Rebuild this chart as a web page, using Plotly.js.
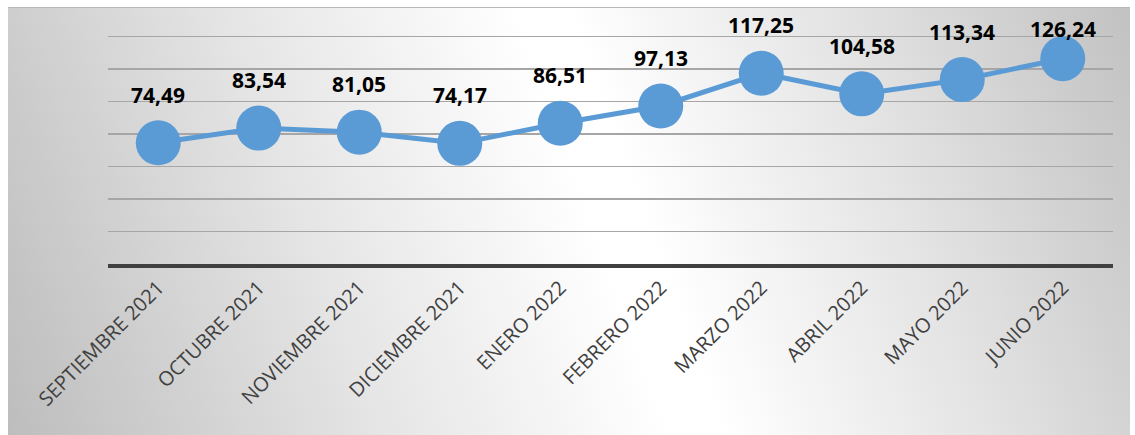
<!DOCTYPE html>
<html>
<head>
<meta charset="utf-8">
<script src="https://cdn.plot.ly/plotly-3.0.1.min.js"></script>
<style>
    html, body { margin: 0; padding: 0; background: #ffffff; }
    #frame {
        position: absolute;
        left: 8px; top: 7px;
        width: 1122px; height: 428px;
        border-top: 1px solid #b8b8b8;
        background: linear-gradient(70deg, #bdbdbd 0%, #e6e6e6 30%, #ffffff 52%, #ffffff 56%, #e2e2e2 78%, #c2c2c2 100%);
    }
    #chart { position: absolute; left: 0; top: 0; width: 1135px; height: 435px; }
</style>
</head>
<body>
<div id="frame"></div>
<div id="chart"></div>
<script>
// Monthly values (Sep 2021 - Jun 2022)
const months = [
    'SEPTIEMBRE 2021', 'OCTUBRE 2021', 'NOVIEMBRE 2021', 'DICIEMBRE 2021', 'ENERO 2022',
    'FEBRERO 2022', 'MARZO 2022', 'ABRIL 2022', 'MAYO 2022', 'JUNIO 2022'
];
const values = [74.49, 83.54, 81.05, 74.17, 86.51, 97.13, 117.25, 104.58, 113.34, 126.24];

// Format with decimal comma
const fmt = v => v.toFixed(2).replace('.', ',');

const trace = {
    type: 'scatter',
    mode: 'lines+markers',
    x: months,
    y: values,
    line: { color: '#5b9bd5', width: 5 },
    marker: { color: '#5b9bd5', size: 45 },
    hoverinfo: 'skip',
    cliponaxis: false
};

// Data labels above each point (Excel pushes the top one down to fit)
const annotations = months.map((m, i) => ({
    x: m,
    y: values[i],
    xref: 'x',
    yref: 'y',
    text: fmt(values[i]),
    showarrow: false,
    yshift: values[i] > 120 ? 30 : 48,
    font: { family: 'Open Sans, sans-serif', size: 21, color: '#000000', weight: 'bold' }
}));

const layout = {
    width: 1135,
    height: 435,
    paper_bgcolor: 'rgba(0,0,0,0)',
    plot_bgcolor: 'rgba(0,0,0,0)',
    showlegend: false,
    margin: { l: 108, r: 22, t: 33, b: 171, pad: 0 },
    xaxis: {
        type: 'category',
        range: [-0.5, months.length - 0.5],
        showgrid: false,
        showline: true,
        linecolor: '#404040',
        linewidth: 4,
        ticks: '',
        tickangle: -45,
        tickfont: { family: 'Open Sans, sans-serif', size: 20, color: '#404040' },
        fixedrange: true
    },
    yaxis: {
        range: [0, 142],
        dtick: 20,
        showticklabels: false,
        showgrid: true,
        gridcolor: '#a6a6a6',
        gridwidth: 1.5,
        zeroline: false,
        fixedrange: true
    },
    annotations: annotations
};

Plotly.newPlot('chart', [trace], layout, { displayModeBar: false, staticPlot: true });
</script>
</body>
</html>
